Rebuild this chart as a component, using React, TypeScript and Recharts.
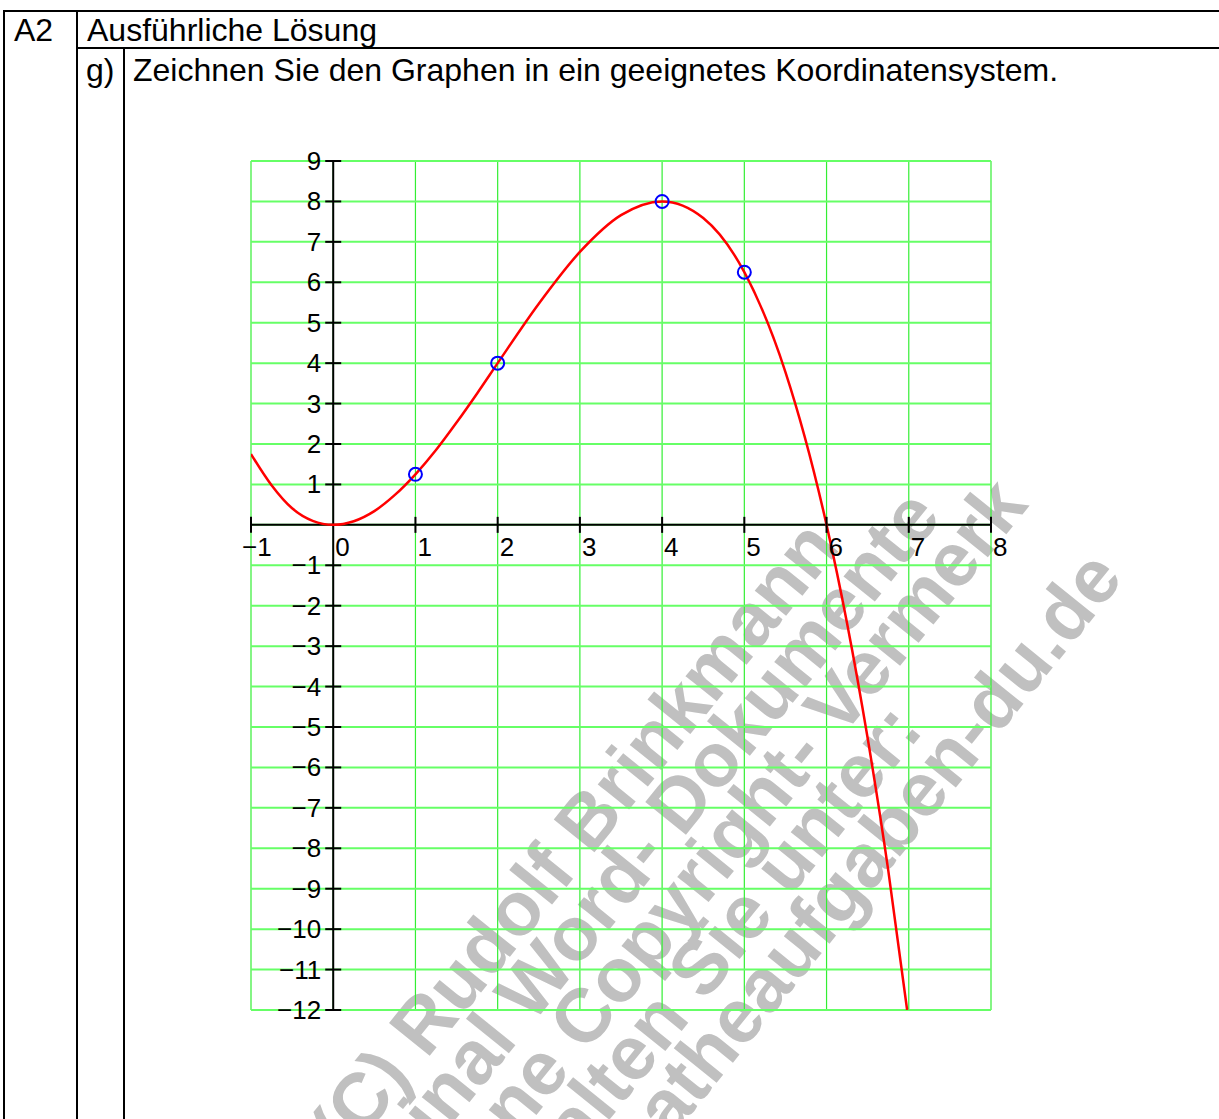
import { ComposedChart, CartesianGrid, Line, ReferenceDot, ReferenceLine, XAxis, YAxis } from 'recharts';

const xTicks = [-1, 0, 1, 2, 3, 4, 5, 6, 7, 8];
const yTicks = [-12, -11, -10, -9, -8, -7, -6, -5, -4, -3, -2, -1, 0, 1, 2, 3, 4, 5, 6, 7, 8, 9];

// values
const curveX = [-1, -0.75, -0.5, -0.25, 0, 0.25, 0.5, 0.75, 1, 1.25, 1.5, 1.75, 2, 2.5, 3, 3.5, 4, 4.5, 5, 5.5, 6, 6.25, 6.5, 6.75, 6.98];
const curveY = [1.75, 0.98, 0.41, 0.1, 0, 0.09, 0.34, 0.74, 1.25, 1.85, 2.53, 3.25, 4, 5.47, 6.75, 7.66, 8, 7.59, 6.25, 3.78, 0, -2.44, -5.28, -8.54, -12];

// blue circles
const pointX = [1, 2, 4, 5];
const pointY = [1.25, 4, 8, 6.25];

const watermarkLines = [
  '(C) Rudolf Brinkmann',
  'Original Word- Dokumente',
  'ohne Copyright- Vermerk',
  'erhalten Sie unter:',
  'www.matheaufgaben-du.de',
];
const watermarkShift = [0, 0, 90, -30, 55];

const curve = curveX.map((x, i) => ({ x, y: curveY[i] }));
const points = pointX.map((x, i) => ({ x, y: pointY[i] }));

const FONT = '"Liberation Sans", Arial, Helvetica, sans-serif';

const fmt = (v: number) => (v < 0 ? `\u2212${Math.abs(v)}` : `${v}`);

function XTick({ cx, cy, value }: { cx?: number; cy?: number; value: number }) {
  if (cx == null || cy == null) return null;
  return (
    <g>
      {value !== 0 && <line x1={cx} x2={cx} y1={cy - 8} y2={cy + 8} stroke="#000" strokeWidth={2} />}
      <text x={value < 0 ? cx - 9 : cx + 2} y={cy + 31} fontSize={26} fontFamily={FONT} fill="#000">
        {fmt(value)}
      </text>
    </g>
  );
}

function YTick({ cx, cy, value }: { cx?: number; cy?: number; value: number }) {
  if (cx == null || cy == null) return null;
  return (
    <g>
      <line x1={cx - 8} x2={cx + 8} y1={cy} y2={cy} stroke="#000" strokeWidth={2} />
      <text x={cx - 12} y={cy + 9} textAnchor="end" fontSize={26} fontFamily={FONT} fill="#000">
        {fmt(value)}
      </text>
    </g>
  );
}

const rule = (style: React.CSSProperties) => (
  <div style={{ position: 'absolute', background: '#000', ...style }} />
);

export default function App() {
  return (
    <div style={{ position: 'absolute', left: 0, top: 0, width: 1219, height: 1119, background: '#fff', overflow: 'hidden', fontFamily: FONT }}>
      <svg width={1219} height={1119} style={{ position: 'absolute', left: 0, top: 0 }}>
        <g transform="translate(594 853) rotate(-51)">
          {watermarkLines.map((t, i) => (
            <text
              key={t}
              x={watermarkShift[i]}
              y={i * 60}
              textAnchor="middle"
              fontSize={76}
              fontWeight="bold"
              fontFamily={FONT}
              fill="#c0c0c0"
            >
              {t}
            </text>
          ))}
        </g>
        <g fontFamily={FONT} fontSize={32} fill="#000">
          <text x={14} y={41}>A2</text>
          <text x={87} y={41}>Ausführliche Lösung</text>
          <text x={86} y={81}>g)</text>
          <text x={133} y={81}>Zeichnen Sie den Graphen in ein geeignetes Koordinatensystem.</text>
        </g>
      </svg>

      {rule({ left: 4, top: 10, width: 1215, height: 2 })}
      {rule({ left: 3, top: 10, width: 2, height: 1109 })}
      {rule({ left: 76, top: 10, width: 2, height: 1109 })}
      {rule({ left: 76, top: 47, width: 1143, height: 2 })}
      {rule({ left: 123, top: 47, width: 2, height: 1072 })}

      <div style={{ position: 'absolute', left: 0, top: 0 }}>
        <ComposedChart width={1219} height={1119} margin={{ top: 161, right: 228, bottom: 109, left: 251 }}>
          <CartesianGrid horizontal={false} stroke="#33ee33" strokeWidth={1.2} />
          <CartesianGrid vertical={false} stroke="#66ff66" strokeWidth={2} />
          <XAxis
            dataKey="x"
            type="number"
            domain={[-1, 8]}
            ticks={xTicks}
            interval={0}
            allowDataOverflow
            height={0}
            axisLine={false}
            tickLine={false}
            tick={() => <g />}
          />
          <YAxis
            dataKey="y"
            type="number"
            domain={[-12, 9]}
            ticks={yTicks}
            interval={0}
            allowDataOverflow
            width={0}
            axisLine={false}
            tickLine={false}
            tick={() => <g />}
          />
          <ReferenceLine x={0} stroke="#000" strokeWidth={2} />
          <ReferenceLine y={0} stroke="#000" strokeWidth={2} />
          {xTicks.map((t) => (
            <ReferenceDot key={`x${t}`} x={t} y={0} r={0} shape={(p: any) => <XTick cx={p.cx} cy={p.cy} value={t} />} />
          ))}
          {yTicks
            .filter((t) => t !== 0)
            .map((t) => (
              <ReferenceDot key={`y${t}`} x={0} y={t} r={0} shape={(p: any) => <YTick cx={p.cx} cy={p.cy} value={t} />} />
            ))}
          <Line
            data={curve}
            dataKey="y"
            type="monotone"
            stroke="#ff0000"
            strokeWidth={2.5}
            dot={false}
            isAnimationActive={false}
          />
          <Line
            data={points}
            dataKey="y"
            stroke="none"
            dot={{ r: 6.5, stroke: '#0000ff', strokeWidth: 2, fill: 'none' }}
            isAnimationActive={false}
          />
        </ComposedChart>
      </div>
    </div>
  );
}
